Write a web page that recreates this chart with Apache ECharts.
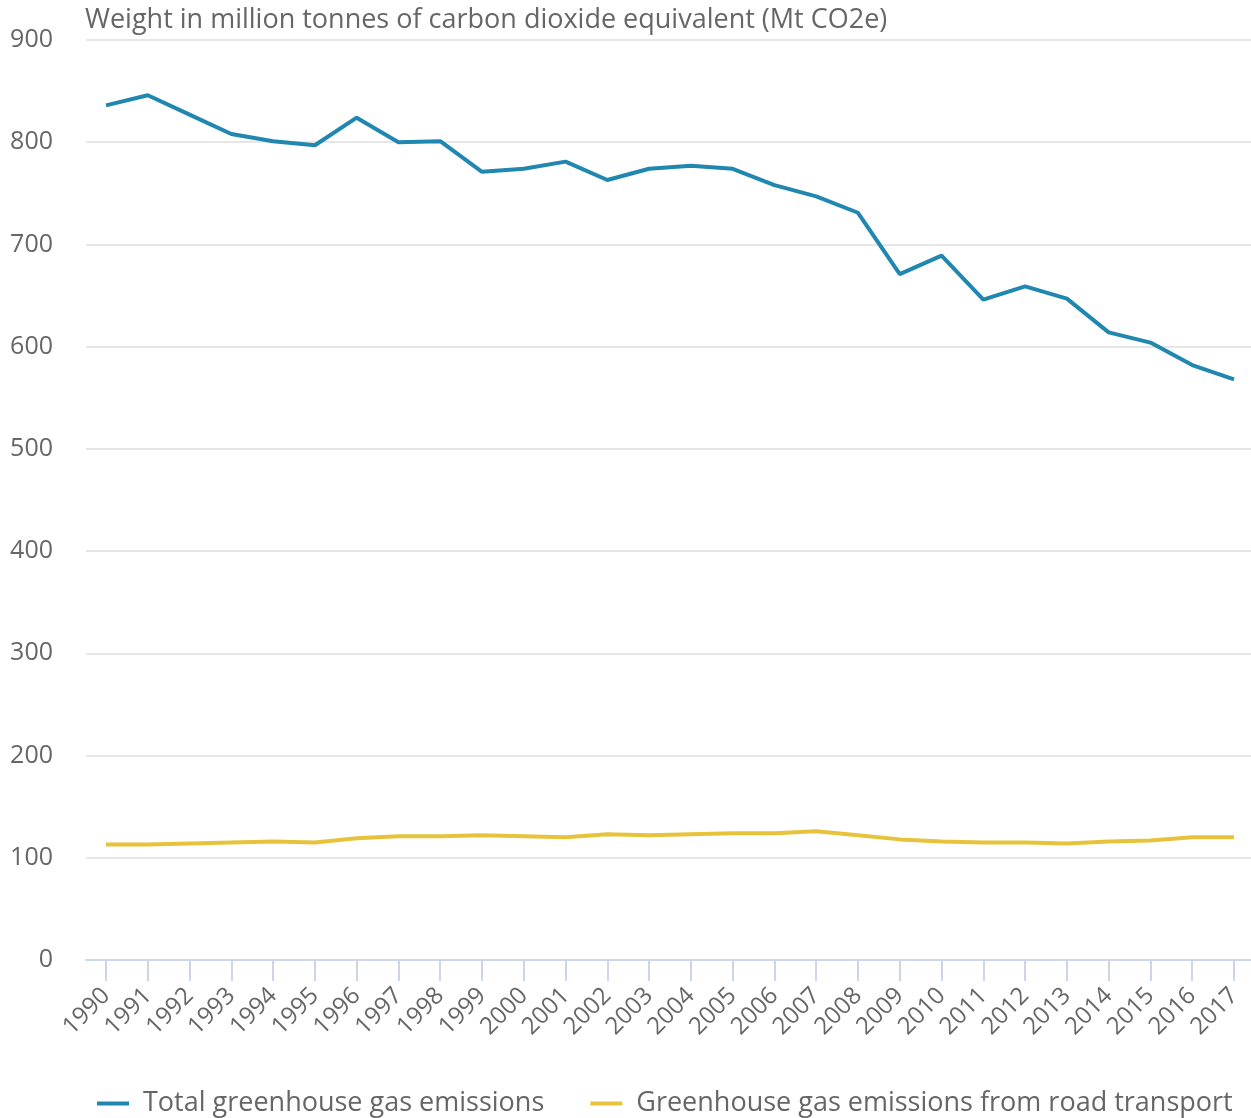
<!DOCTYPE html>
<html lang="en">
  <head>
    <meta charset="UTF-8" />
    <title>Greenhouse gas emissions</title>
    <style>
      html, body { margin: 0; padding: 0; background: #fff; }
      #main { width: 1251px; height: 1118px; }
    </style>
  </head>
  <body>
    <div id="main"></div>
    <script src="https://cdn.jsdelivr.net/npm/echarts@6/dist/echarts.min.js"></script>
    <script>
      var years = ['1990', '1991', '1992', '1993', '1994', '1995', '1996', '1997', '1998', '1999',
        '2000', '2001', '2002', '2003', '2004', '2005', '2006', '2007', '2008', '2009',
        '2010', '2011', '2012', '2013', '2014', '2015', '2016', '2017'];
      // Mt CO2e
      var totalEmissions = [836, 846, 827, 808, 801, 797, 824, 800, 801, 771,
        774, 781, 763, 774, 777, 774, 758, 747, 731, 671,
        689, 646, 659, 647, 614, 604, 582, 568];
      var roadEmissions = [113, 113, 114, 115, 116, 115, 119, 121, 121, 122,
        121, 120, 123, 122, 123, 124, 124, 126, 122, 118,
        116, 115, 115, 114, 116, 117, 120, 120];
      var seriesNames = ['Total greenhouse gas emissions', 'Greenhouse gas emissions from road transport'];

      var font = "'Open Sans', 'DejaVu Sans', sans-serif";
      var textGrey = '#666666';
      var axisBlue = '#ccd6eb';

      var myChart = echarts.init(document.getElementById('main'));
      var option = {
        animation: false,
        textStyle: { fontFamily: font },
        title: {
          text: 'Weight in million tonnes of carbon dioxide equivalent (Mt CO2e)',
          left: 80,
          top: 2,
          textStyle: { fontFamily: font, fontSize: 27, fontWeight: 'normal', color: textGrey }
        },
        color: ['#1f87b0', '#e6c33b'],
        legend: {
          data: seriesNames,
          left: 92,
          top: 1085,
          icon: 'rect',
          itemWidth: 32,
          itemHeight: 4,
          itemGap: 46,
          textStyle: { fontFamily: font, fontSize: 27, color: textGrey, padding: [0, 0, 0, 9] }
        },
        // grid 0: gridlines, y labels and the full-width axis line
        // grid 1: the plotted lines, ticks and year labels (first/last year sit inside the frame)
        grid: [
          { left: 86, right: 0, top: 40, bottom: 158 },
          { left: 106, right: 17, top: 40, bottom: 158 }
        ],
        xAxis: [
          {
            gridIndex: 0,
            type: 'category',
            data: years,
            axisLine: { lineStyle: { color: axisBlue, width: 2 } },
            axisTick: { show: false },
            axisLabel: { show: false }
          },
          {
            gridIndex: 1,
            type: 'category',
            data: years,
            boundaryGap: false,
            axisLine: { show: false },
            axisTick: { show: true, length: 21, lineStyle: { color: axisBlue, width: 2 } },
            axisLabel: {
              rotate: 45,
              margin: 32,
              interval: 0,
              fontFamily: font,
              fontSize: 24,
              color: textGrey
            }
          }
        ],
        yAxis: [
          {
            gridIndex: 0,
            type: 'value',
            min: 0,
            max: 900,
            interval: 100,
            axisLine: { show: false },
            axisTick: { show: false },
            axisLabel: { margin: 33, fontFamily: font, fontSize: 25, color: textGrey },
            splitLine: { lineStyle: { color: '#e6e6e6', width: 2 } }
          },
          {
            gridIndex: 1,
            type: 'value',
            min: 0,
            max: 900,
            interval: 100,
            show: false
          }
        ],
        series: [
          {
            name: seriesNames[0],
            type: 'line',
            xAxisIndex: 1,
            yAxisIndex: 1,
            data: totalEmissions,
            showSymbol: false,
            lineStyle: { width: 4 }
          },
          {
            name: seriesNames[1],
            type: 'line',
            xAxisIndex: 1,
            yAxisIndex: 1,
            data: roadEmissions,
            showSymbol: false,
            lineStyle: { width: 4 }
          }
        ]
      };
      myChart.setOption(option);
    </script>
  </body>
</html>
